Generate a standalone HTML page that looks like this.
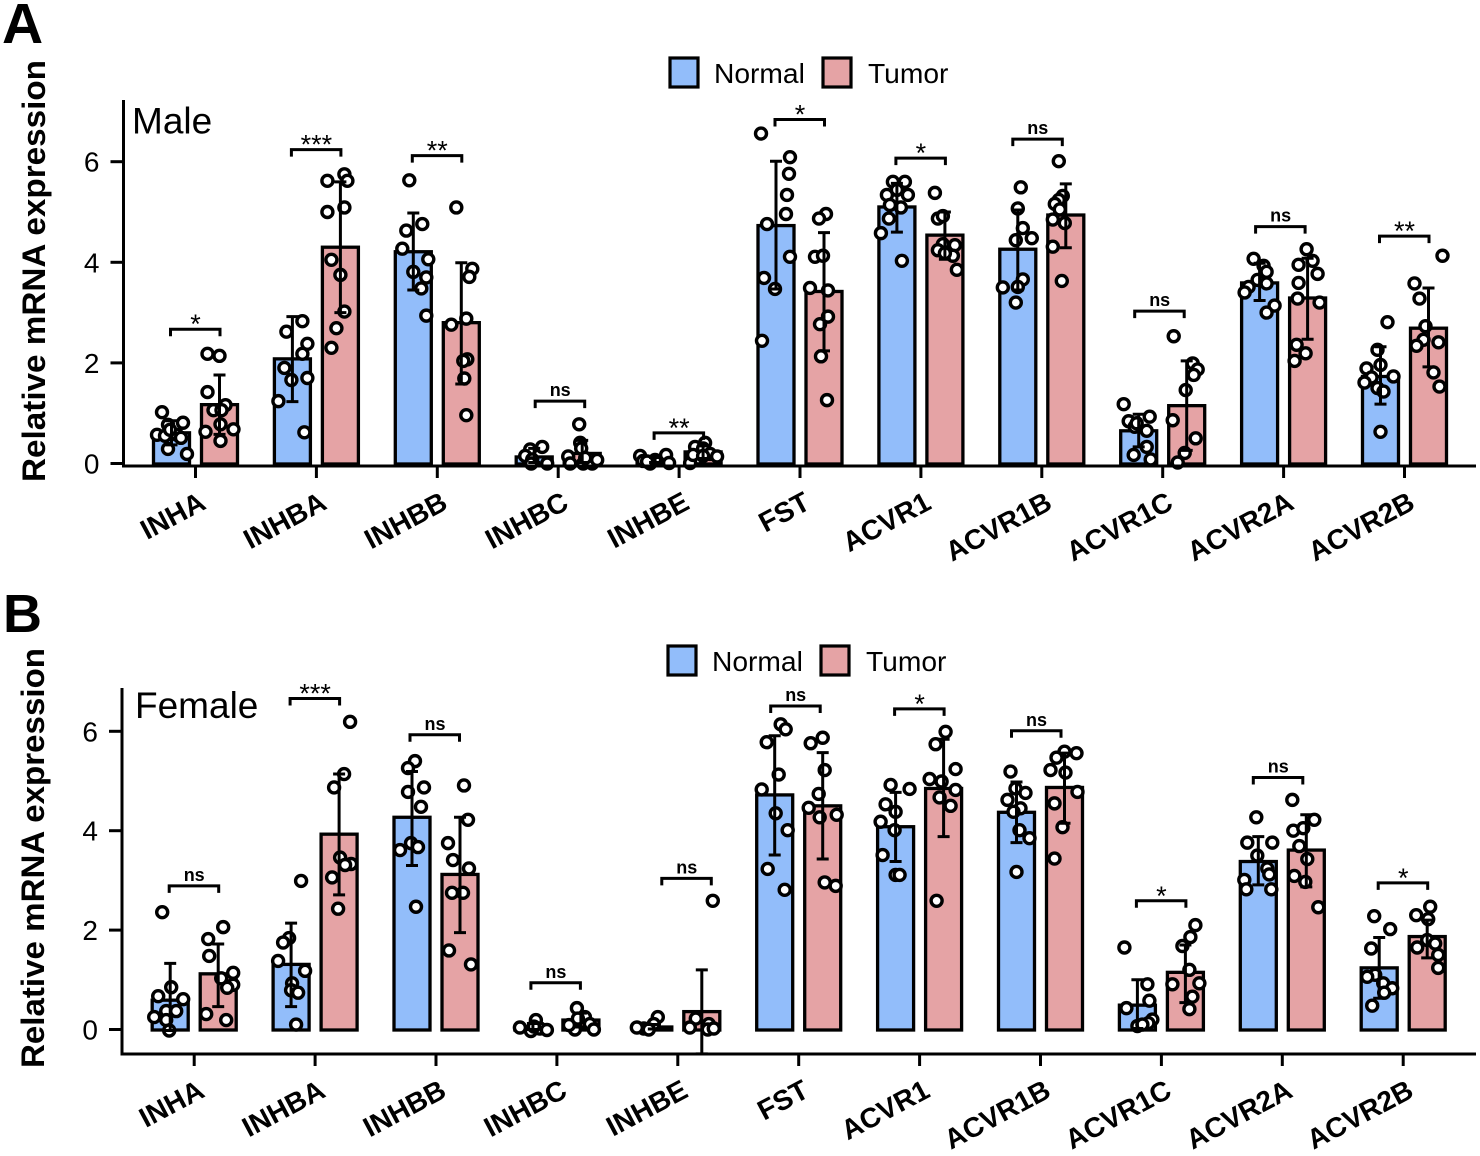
<!DOCTYPE html>
<html lang="en">
<head>
<meta charset="utf-8">
<title>Relative mRNA expression by sex</title>
<style>
html,body{margin:0;padding:0;background:#fff;}
svg{display:block;font-family:"Liberation Sans",Arial,sans-serif;}
</style>
</head>
<body>
<svg id="chart" xmlns="http://www.w3.org/2000/svg" width="1480" height="1156" viewBox="0 0 1480 1156">
  <rect x="0" y="0" width="1480" height="1156" fill="#fff"/>
  <text x="2" y="43" font-size="57" font-weight="700" fill="#000">A</text>
  <text x="3" y="632" font-size="54" font-weight="700" fill="#000">B</text>
  <text transform="translate(45 482) rotate(-90)" font-size="32" font-weight="700" textLength="422" lengthAdjust="spacingAndGlyphs" fill="#000">Relative mRNA expression</text>
  <text transform="translate(44 1068) rotate(-90)" font-size="32" font-weight="700" textLength="420" lengthAdjust="spacingAndGlyphs" fill="#000">Relative mRNA expression</text>
  <text x="132" y="133.5" font-size="37" fill="#000">Male</text>
  <text x="135" y="718" font-size="37" fill="#000">Female</text>
  <g>
    <rect x="670" y="58" width="28" height="29" fill="#92BDFA" stroke="#000" stroke-width="3.2"/>
    <text x="714" y="83" font-size="28.2" fill="#000">Normal</text>
    <rect x="823" y="58" width="28" height="29" fill="#E5A3A5" stroke="#000" stroke-width="3.2"/>
    <text x="868" y="83" font-size="28.2" fill="#000">Tumor</text>
  </g>
  <g>
    <rect x="668" y="646" width="28" height="29" fill="#92BDFA" stroke="#000" stroke-width="3.2"/>
    <text x="712" y="671" font-size="28.2" fill="#000">Normal</text>
    <rect x="821" y="646" width="28" height="29" fill="#E5A3A5" stroke="#000" stroke-width="3.2"/>
    <text x="866" y="671" font-size="28.2" fill="#000">Tumor</text>
  </g>
  <g id="panel-a"></g>
  <g id="panel-b"></g>
</svg>
<script>
const categories = ["INHA","INHBA","INHBB","INHBC","INHBE","FST","ACVR1","ACVR1B","ACVR1C","ACVR2A","ACVR2B"];
const yTickValues = [0,2,4,6];

/* ---- Male panel ---- */
const maleNormalMeans = [0.61,2.08,4.21,0.13,0.06,4.73,5.10,4.26,0.65,3.59,1.73];
const maleNormalUpper = [0.85,2.92,4.98,0.30,0.12,6.01,5.57,5.04,0.98,3.98,2.32];
const maleNormalLower = [0.37,1.23,3.45,0.02,0.02,3.47,4.60,3.45,0.33,3.24,1.18];
const maleTumorMeans  = [1.17,4.30,2.80,0.20,0.23,3.42,4.54,4.94,1.15,3.29,2.69];
const maleTumorUpper  = [1.76,5.60,3.99,0.46,0.35,4.59,5.00,5.56,2.04,4.08,3.49];
const maleTumorLower  = [0.58,3.00,1.58,0.02,0.10,2.24,4.06,4.29,0.26,2.47,1.92];
const maleNormalValues = [
 [1.02,0.77,0.81,0.57,0.55,0.57,0.51,0.29,0.67,0.19],
 [2.83,2.62,2.38,2.18,1.90,1.66,1.70,1.24,0.62],
 [5.63,4.76,4.63,4.27,4.06,3.81,3.70,3.48,2.94],
 [0.33,0.28,0.15,0.08,0,0],
 [0.15,0.05,0,0.07,0.17,0.01,0.04],
 [6.56,6.09,5.76,5.34,4.96,4.76,4.11,3.69,3.47,2.44],
 [5.60,5.60,5.34,5.34,5.44,5.14,5.09,4.87,4.58,4.03],
 [5.49,5.07,4.68,4.48,4.44,3.66,3.51,3.50,3.20],
 [1.18,0.84,0.93,0.73,0.65,0.33,0.17,0.08,0.80],
 [4.07,3.93,3.81,3.65,3.51,3.58,3.40,3.14,3.00],
 [2.81,2.26,1.96,1.89,1.73,1.71,1.61,1.50,1.43,0.63]
];
const maleNormalJitter = [
 [-9.5,-3.5,11.5,-14.5,-6.5,5.5,9.5,-3.5,-1.5,15.5],
 [10,-6,15,10,-8,-1,15,-14,12],
 [-4,9,-7,-11,15,0,13,8,13],
 [8,-4,-9,-2,13,-3],
 [-15,-12,-5,0,11,14,-8],
 [-15,14,13,11,10,-9,14,-12,-1,-14],
 [-4,8,-10,11,0,-7,4,-8,-16,5],
 [3,0,5,14,-2,5,0,-15,-2],
 [-15,-10,11,-4,8,8,-5,12,-2],
 [-6,4,7,-2,-11,7,-15,15,7],
 [7,-3,0,-14,13,-9,-16,-3,3,0]
];
const maleTumorValues = [
 [2.18,2.14,1.42,1.16,1.06,1.06,0.78,0.63,0.68,0.45],
 [5.75,5.62,5.62,5.00,5.09,4.05,3.75,3.02,2.69,2.30],
 [5.09,3.87,3.71,2.76,2.88,2.07,2.04,1.69,0.96],
 [0.78,0.41,0.30,0.14,0,0,0,0.07,0.11],
 [0.41,0.33,0.30,0.19,0.14,0.10,0.01,0.17,0.15],
 [4.96,4.87,4.11,4.13,3.49,3.44,2.92,2.77,2.13,1.26],
 [5.38,4.87,4.92,4.34,4.36,4.24,4.13,3.85,4.18],
 [6.01,5.32,5.24,5.16,5.05,4.85,4.78,4.31,3.63],
 [2.53,1.99,1.87,1.76,1.46,0.86,0.50,0.21,0.02],
 [4.26,4.03,3.95,3.77,3.59,3.28,3.20,2.36,2.19,2.04],
 [4.13,3.58,3.28,2.73,2.46,2.41,2.34,1.81,1.53]
];
const maleTumorJitter = [
 [-12,0,-12,6,-6,2,1,-14,14,1],
 [4,-13,7,-13,4,-9,0,4,-4,-9],
 [-5,11,8,-10,5,6,2,3,5],
 [-3,-2,-1,-14,-12,1,10,15,3],
 [2,-8,0,7,14,-5,-13,-10,0],
 [2,-5,-9,-1,-14,4,4,-4,-3,3],
 [-10,-7,-2,10,-2,-7,8,12,0],
 [-7,-3,-7,-11,-6,-13,-1,-13,-4],
 [-13,6,11,7,-1,-14,9,-2,-9],
 [-1,5,-9,10,-9,-10,12,-11,-2,-13],
 [14,-14,-9,-3,-5,10,-12,5,11]
];
const maleSigLabels = ["*","***","**","ns","**","*","*","ns","ns","ns","**"];
const maleSigHeights = [2.67,6.24,6.12,1.24,0.61,6.84,6.07,6.45,3.03,4.71,4.52];
const maleSigShift = [0,0,0,2,0,0,0,-4,-3,-3,0];

/* ---- Female panel ---- */
const femaleNormalMeans = [0.59,1.31,4.27,0.05,0.05,4.72,4.08,4.37,0.49,3.38,1.24];
const femaleNormalUpper = [1.33,2.14,5.19,0.12,0.10,5.91,4.77,4.98,1.00,3.88,1.85];
const femaleNormalLower = [-0.02,0.46,3.30,0.00,0.01,3.51,3.38,3.76,0.02,2.91,0.63];
const femaleTumorMeans  = [1.12,3.93,3.12,0.19,0.36,4.50,4.85,4.87,1.15,3.61,1.87];
const femaleTumorUpper  = [1.72,5.14,4.27,0.33,1.20,5.57,5.84,5.56,1.70,4.32,2.20];
const femaleTumorLower  = [0.46,2.71,1.95,0.05,-0.49,3.43,3.88,4.15,0.54,2.87,1.44];
const femaleNormalValues = [
 [2.36,0.85,0.67,0.61,0.37,0.37,0.25,0.19,-0.02],
 [2.99,1.84,1.75,1.38,1.18,0.93,0.79,0.74,0.10],
 [5.40,5.26,4.87,4.78,4.48,3.75,3.67,3.61,2.47],
 [0.04,0.19,-0.03,0.02,-0.01,0.06],
 [0.25,0.11,0.02,0,0.04],
 [6.14,6.04,5.78,5.13,4.83,4.35,4.01,3.23,2.81],
 [4.92,4.84,4.53,4.38,4.18,4.01,3.51,3.11,3.11],
 [5.19,4.85,4.76,4.62,4.45,4.38,4.01,3.85,3.17],
 [1.65,0.91,0.58,0.43,0.20,0.13,0.07,0.10],
 [4.27,3.76,3.76,3.50,3.24,3.12,3.01,2.82,2.82],
 [2.28,2.02,1.63,1.10,1.06,0.93,0.83,0.74,0.48]
];
const femaleNormalJitter = [
 [-8,1,-12,13,-4,6,-16,-4,-1],
 [10,-2,-8,-13,14,1,0,7,5],
 [3,-4,12,-4,9,-1,6,-12,4],
 [-13,3,-2,7,14,1],
 [4,0,-10,-5,-17],
 [6,11,-8,4,-13,1,13,-7,10],
 [-5,14,-10,0,-15,-1,-13,0,4],
 [-6,-1,9,-9,4,-3,3,13,0],
 [-13,10,12,-11,15,11,0,5],
 [-2,-11,14,-1,9,11,-14,-12,13],
 [-5,11,-8,-4,-12,4,13,5,-7]
];
const femaleTumorValues = [
 [2.06,1.82,1.48,1.14,1.03,0.90,0.84,0.31,0.19],
 [6.19,5.14,4.87,3.46,3.33,3.31,3.06,2.43],
 [4.91,4.22,3.75,3.41,3.24,2.75,2.75,1.59,1.31],
 [0.43,0.25,0.11,0,0,0.09,0.22],
 [2.59,0.22,0.11,0.04,0,0.02],
 [5.87,5.76,5.22,4.74,4.46,4.27,4.32,2.96,2.89],
 [5.99,5.74,5.24,5.04,4.99,4.82,4.67,4.50,2.59],
 [5.59,5.56,5.47,5.22,5.17,4.78,4.55,4.07,3.44],
 [2.10,1.86,1.68,1.20,0.91,0.93,0.66,0.41],
 [4.62,4.22,4.00,4.05,3.69,3.43,3.09,2.97,2.46],
 [2.47,2.30,2.22,1.80,1.73,1.65,1.50,1.24]
];
const femaleTumorJitter = [
 [5,-10,-9,15,3,15,9,-12,8],
 [11,5,-5,1,12,6,-7,-1],
 [4,8,-12,-7,9,-8,3,-11,11],
 [-4,4,9,-6,13,-12,-3],
 [11,-6,7,-12,6,12],
 [0,-12,2,-4,-14,-3,14,2,13],
 [2,-8,12,-14,-2,12,-4,7,-7],
 [0,12,-8,-14,1,13,-10,-2,-10],
 [10,5,-3,4,-13,14,7,4],
 [-14,8,-13,-3,-7,1,-12,-1,12],
 [3,-11,1,0,8,-10,11,11]
];
const femaleSigLabels = ["ns","***","ns","ns","ns","ns","*","ns","*","ns","*"];
const femaleSigHeights = [2.89,6.66,5.93,0.94,3.04,6.51,6.45,6.01,2.59,5.07,2.95];
const femaleSigShift = [0,0,-1,-1,9,-3,0,-4,0,-4,0];

const SVG_NS = "http://www.w3.org/2000/svg";
const NORMAL_FILL = "#92BDFA";
const TUMOR_FILL = "#E5A3A5";
const STEP = 120.9;

function make(parent, tag, attrs) {
  const node = document.createElementNS(SVG_NS, tag);
  for (const k in attrs) node.setAttribute(k, attrs[k]);
  parent.appendChild(node);
  return node;
}

function drawPanel(root, cfg) {
  const xScale = i => cfg.x0 + STEP * i;
  const yScale = v => cfg.y0 - cfg.unit * v;
  const jitterScale = j => j * STEP / 121;

  const series = [
    {key:"normal", off:-24, fill:NORMAL_FILL, means:cfg.normalMeans, up:cfg.normalUpper, lo:cfg.normalLower, vals:cfg.normalValues, jit:cfg.normalJitter},
    {key:"tumor",  off:24,  fill:TUMOR_FILL,  means:cfg.tumorMeans,  up:cfg.tumorUpper,  lo:cfg.tumorLower,  vals:cfg.tumorValues,  jit:cfg.tumorJitter}
  ];

  categories.forEach((cat, i) => {
    const group = make(root, "g", {});
    
    

    series.forEach(s => {
      const cx = xScale(i) + s.off;
      const top = yScale(s.means[i]);
      const bar = make(group, "rect", {x:cx-18, y:top, width:36, height:yScale(0)-top+0.5, fill:s.fill, stroke:"#000", "stroke-width":3.3});
      
      

      s.vals[i].forEach((v, k) => {
        const pt = make(group, "circle", {cx:cx+jitterScale(s.jit[i][k]), cy:yScale(v), r:5.5, fill:"#fff", stroke:"#000", "stroke-width":3.4});
        
        
      });

      const errD = "M"+cx+" "+yScale(s.up[i])+"V"+yScale(s.lo[i])+
        "M"+(cx-6)+" "+yScale(s.up[i])+"H"+(cx+6)+
        "M"+(cx-6)+" "+yScale(s.lo[i])+"H"+(cx+6);
      const err = make(group, "path", {d:errD, fill:"none", stroke:"#000", "stroke-width":3});
      
      
    });

    const by = yScale(cfg.sigHeights[i]);
    const bx = xScale(i) + cfg.sigShift[i] * STEP / 121;
    const br = make(group, "path", {d:"M"+(bx-25)+" "+(by+7)+"V"+by+"H"+(bx+24.5)+"V"+(by+7), fill:"none", stroke:"#000", "stroke-width":3});
    
    

    const isNs = cfg.sigLabels[i] === "ns";
    const lab = make(group, "text", {x:bx, y:isNs ? by-5 : by+4, "text-anchor":"middle", "font-size":isNs ? 18 : 27, "font-weight":isNs ? 700 : 400, fill:"#000"});
    lab.textContent = cfg.sigLabels[i];
    
    

    const tick = make(group, "line", {x1:xScale(i), x2:xScale(i), y1:cfg.axisY, y2:cfg.axisY+12, stroke:"#000", "stroke-width":3});
    
    

    const tx = xScale(i) + 12;
    const ty = cfg.axisY + 42;
    const tl = make(group, "text", {x:tx, y:ty, "text-anchor":"end", "font-size":28, "font-weight":700, fill:"#000", transform:"rotate(-28 "+tx+" "+ty+")"});
    tl.textContent = cat;
    
    
  });

  const yAxis = make(root, "line", {x1:cfg.axisX, x2:cfg.axisX, y1:cfg.axisTop, y2:cfg.axisY+1.5, stroke:"#000", "stroke-width":3});
  
  

  const xAxis = make(root, "line", {x1:cfg.axisX, x2:1476, y1:cfg.axisY, y2:cfg.axisY, stroke:"#000", "stroke-width":3});
  
  

  yTickValues.forEach(v => {
    const t = make(root, "line", {x1:cfg.axisX-13, x2:cfg.axisX, y1:yScale(v), y2:yScale(v), stroke:"#000", "stroke-width":3});
    
    
    const l = make(root, "text", {x:cfg.axisX-24, y:yScale(v)+10, "text-anchor":"end", "font-size":28, fill:"#000"});
    l.textContent = v;
    
    
  });
}

drawPanel(document.getElementById("panel-a"), {
  x0:195.5, y0:463.5, unit:50.3, axisX:123.5, axisY:466, axisTop:100,
  normalMeans:maleNormalMeans, normalUpper:maleNormalUpper, normalLower:maleNormalLower,
  normalValues:maleNormalValues, normalJitter:maleNormalJitter,
  tumorMeans:maleTumorMeans, tumorUpper:maleTumorUpper, tumorLower:maleTumorLower,
  tumorValues:maleTumorValues, tumorJitter:maleTumorJitter,
  sigLabels:maleSigLabels, sigHeights:maleSigHeights, sigShift:maleSigShift
});
drawPanel(document.getElementById("panel-b"), {
  x0:194.2, y0:1029.5, unit:49.7, axisX:122, axisY:1054, axisTop:688,
  normalMeans:femaleNormalMeans, normalUpper:femaleNormalUpper, normalLower:femaleNormalLower,
  normalValues:femaleNormalValues, normalJitter:femaleNormalJitter,
  tumorMeans:femaleTumorMeans, tumorUpper:femaleTumorUpper, tumorLower:femaleTumorLower,
  tumorValues:femaleTumorValues, tumorJitter:femaleTumorJitter,
  sigLabels:femaleSigLabels, sigHeights:femaleSigHeights, sigShift:femaleSigShift
});
</script>
</body>
</html>
